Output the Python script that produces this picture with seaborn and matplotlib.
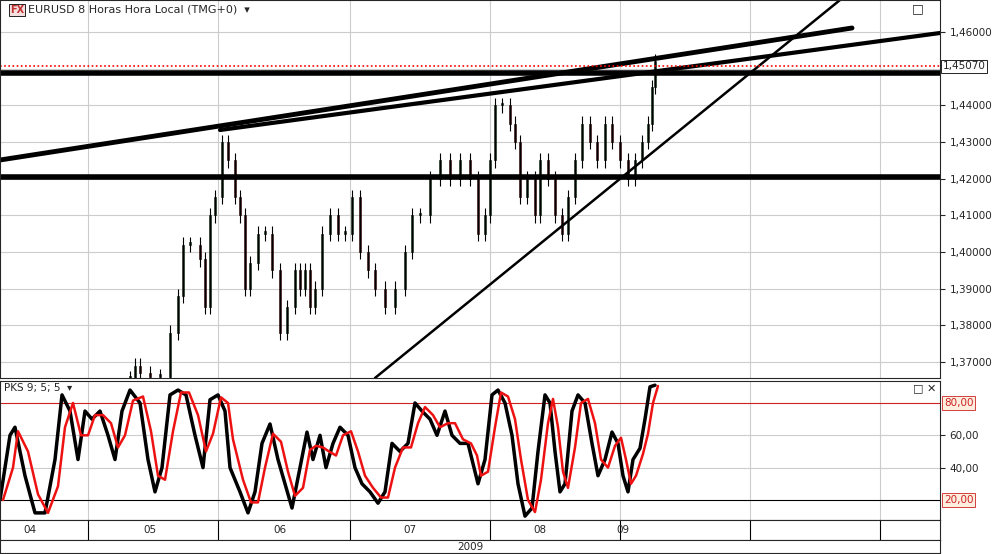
import matplotlib
matplotlib.use("Agg")
import matplotlib.pyplot as plt
import seaborn as sns
import numpy as np
import pandas as pd

sns.set_style("white")
plt.rcParams['font.family'] = ['DejaVu Sans']

# price path (pixel-x position, close)
price_x = [130,135,140,150,160,170,178,183,190,200,205,210,215,222,228,235,240,245,250,258,265,272,280,287,295,300,305,310,315,322,330,338,345,352,360,368,375,385,395,405,412,420,430,440,450,460,470,478,485,490,495,502,510,515,520,527,535,540,548,555,562,568,575,582,590,597,605,612,620,628,635,642,648,652,655]
price_c = [1.3655,1.369,1.367,1.366,1.366,1.378,1.388,1.402,1.402,1.398,1.385,1.410,1.415,1.430,1.425,1.415,1.410,1.390,1.397,1.405,1.405,1.395,1.378,1.385,1.395,1.390,1.395,1.385,1.390,1.405,1.410,1.405,1.405,1.415,1.400,1.395,1.390,1.385,1.390,1.400,1.410,1.410,1.420,1.425,1.420,1.425,1.420,1.405,1.410,1.425,1.440,1.440,1.435,1.430,1.415,1.420,1.410,1.425,1.420,1.410,1.405,1.415,1.425,1.435,1.430,1.425,1.435,1.430,1.425,1.420,1.425,1.430,1.435,1.445,1.452]

osc_x = [0,10,15,25,35,45,55,62,70,78,85,92,100,108,115,122,130,140,148,155,162,170,178,186,195,203,210,218,225,230,240,248,255,262,270,278,285,292,300,307,313,320,326,333,340,348,355,362,370,378,385,392,400,408,415,422,430,437,445,452,460,468,474,478,485,492,498,505,512,518,525,532,538,545,550,555,560,565,572,578,585,592,598,605,612,618,623,628,633,640,645,650,655]
osc_k = [20,60,65,35,12,12,45,85,75,45,75,70,75,60,45,75,88,80,45,25,40,85,88,85,60,40,82,85,75,40,25,12,25,55,67,45,30,15,40,62,45,60,40,55,65,60,40,30,25,18,25,55,50,55,80,75,70,60,75,60,55,55,40,30,45,85,88,80,60,30,10,15,50,85,80,50,25,30,75,85,80,55,35,45,62,55,35,25,45,52,70,90,91]

months = ["04","05","06","07","08","09"]
month_px = [30,150,280,410,540,623]
grid_px = [88,218,350,490,620,750,880]

W, H = 993, 554
fig = plt.figure(figsize=(W/100, H/100), dpi=100)
fig.patch.set_facecolor("white")
def ax_at(l, t, r, b):
    return fig.add_axes([l/W, 1-b/H, (r-l)/W, (b-t)/H])

def pp(y):  # pixel -> price
    return 1.46 - (y - 32) / 36.67 * 0.01

ax = ax_at(0, 0, 940, 378)
ax.set_xlim(0, 940); ax.set_ylim(pp(378), pp(0))
for g in grid_px: ax.axvline(g, color="#cccccc", lw=0.8, zorder=0)
for v in np.arange(1.37, 1.465, 0.01): ax.axhline(v, color="#cccccc", lw=0.8, zorder=0)
df = pd.DataFrame({"x": price_x, "c": price_c})
df["o"] = df["c"].shift(1).fillna(df["c"])
for _, r in df.iterrows():
    up = r.c >= r.o
    lo, hi = min(r.o, r.c), max(r.o, r.c)
    ax.vlines(r.x, lo - 0.002, hi + 0.002, color="black", lw=0.8)
    ax.bar(r.x, max(hi - lo, 0.0006), bottom=lo, width=2.5, color="#2e7d32" if up else "#a01818", edgecolor="black", lw=0.4)
ax.plot([0, 852], [pp(160), pp(28)], color="black", lw=3.5)
ax.plot([220, 940], [pp(130), pp(33)], color="black", lw=3)
ax.plot([375, 840], [pp(378), pp(0)], color="black", lw=1.8)
ax.axhline(pp(73), color="black", lw=4)
ax.axhline(pp(177), color="black", lw=4)
ax.axhline(1.4507, color="red", lw=1.2, ls=(0, (1, 1.5)))
ax.text(28, pp(10), "EURUSD 8 Horas Hora Local (TMG+0)  ▾", fontsize=8, va="center")
ax.text(10, pp(10), "FX", fontsize=7, color="#c03030", weight="bold", va="center",
        bbox=dict(boxstyle="square,pad=0.1", fc="#f4dede", ec="black", lw=0.6))
ax.text(918, pp(9), "□", fontsize=9, ha="center", va="center")
ax.yaxis.tick_right()
ticks = [1.37, 1.38, 1.39, 1.40, 1.41, 1.42, 1.43, 1.44, 1.46]
ax.set_yticks(ticks)
ax.set_yticklabels([f"{t:.5f}".replace(".", ",") for t in ticks], fontsize=7.5)
ax.set_xticks([])
ax.text(943, 1.4507, "1,45070", fontsize=7.5, va="center", clip_on=False,
        bbox=dict(boxstyle="square,pad=0.15", fc="white", ec="black", lw=0.6))
for s in ax.spines.values(): s.set_linewidth(0.8)

ax2 = ax_at(0, 381, 940, 520)
ax2.set_xlim(0, 940); ax2.set_ylim(7.6, 93.6)
for g in grid_px: ax2.axvline(g, color="#cccccc", lw=0.8, zorder=0)
for v in [40, 60]: ax2.axhline(v, color="#cccccc", lw=0.8, zorder=0)
ax2.axhline(80, color="#cc2222", lw=0.8); ax2.axhline(20, color="black", lw=0.8)
od = pd.DataFrame({"x": osc_x, "k": osc_k})
od["d"] = od["k"].rolling(2, min_periods=1).mean()
od["xd"] = od["x"] + 3
sns.lineplot(data=od, x="x", y="k", ax=ax2, color="black", lw=2.5)
sns.lineplot(data=od, x="xd", y="d", ax=ax2, color="#ee1111", lw=1.8)
ax2.set_xlabel(""); ax2.set_ylabel("")
ax2.yaxis.tick_right(); ax2.set_yticks([40, 60]); ax2.set_yticklabels(["40,00", "60,00"], fontsize=7.5)
ax2.set_xticks([])
for v in [80, 20]:
    ax2.text(944, v, f"{v},00", fontsize=7.5, color="#cc2222", va="center", clip_on=False,
             bbox=dict(boxstyle="square,pad=0.15", fc="#fdeee0", ec="#cc2222", lw=0.6))
ax2.text(4, 89, "PKS 9; 5; 5  ▾", fontsize=7.5, va="center")
ax2.text(936, 89, "□ ✕", fontsize=8, ha="right", va="center")

ax3 = ax_at(0, 520, 940, 540)
ax3.set_xlim(0, 940); ax3.set_ylim(0, 1)
for g in grid_px: ax3.axvline(g, color="black", lw=0.8)
for m, x in zip(months, month_px): ax3.text(x, 0.5, m, fontsize=7.5, ha="center", va="center")
ax3.set_xticks([]); ax3.set_yticks([])
ax4 = ax_at(0, 540, 940, 553)
ax4.set_xlim(0, 940); ax4.set_ylim(0, 1); ax4.set_xticks([]); ax4.set_yticks([])
ax4.text(470, 0.5, "2009", fontsize=7.5, ha="center", va="center")
fig.savefig("out.png", dpi=100)
